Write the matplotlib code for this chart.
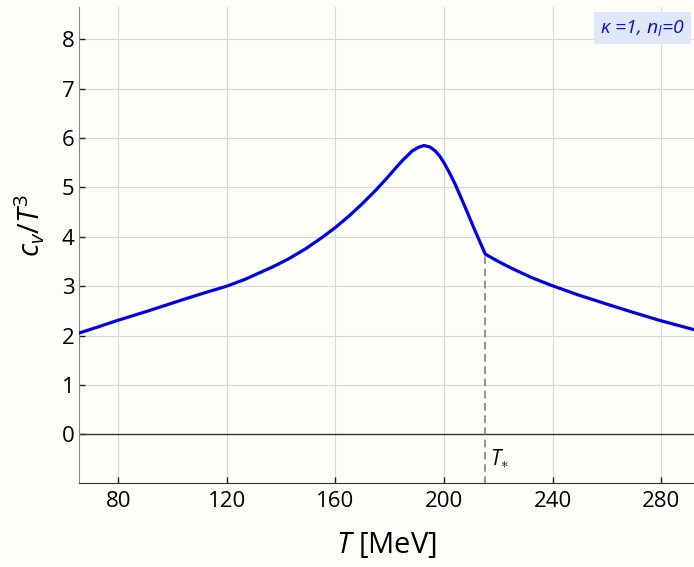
import matplotlib.pyplot as plt

# values
T = [65.6, 72.9, 80, 90, 102.3, 112.1, 120, 126.8, 131.6, 136.9, 143, 149.1,
     155.2, 159.8, 165, 169.9, 174.8, 178.5, 182, 184.6, 188.3, 190.5, 192.6, 194.8,
     196.8, 198.5, 200, 202, 204, 207.5, 211, 215.2,
     220, 225, 232, 239.4, 249, 259.2, 269, 279.2, 292]
cv = [2.05, 2.18, 2.31, 2.48, 2.70, 2.87, 3.00, 3.14, 3.26, 3.39, 3.56, 3.76,
      3.99, 4.18, 4.42, 4.67, 4.94, 5.16, 5.38, 5.54, 5.74, 5.81, 5.85, 5.82,
      5.74, 5.63, 5.50, 5.30, 5.08, 4.64, 4.18, 3.65,
      3.50, 3.36, 3.18, 3.02, 2.83, 2.65, 2.48, 2.31, 2.12]
T_star = 215.2
cv_star = 3.65

xticks = [80, 120, 160, 200, 240, 280]
yticks = [0, 1, 2, 3, 4, 5, 6, 7, 8]

plt.rcParams['font.family'] = ['Open Sans', 'DejaVu Sans']
plt.rcParams['mathtext.fontset'] = 'custom'
plt.rcParams['mathtext.it'] = 'Open Sans:italic'
plt.rcParams['mathtext.rm'] = 'Open Sans'

fig = plt.figure(figsize=(6.94, 5.67), dpi=100)
fig.patch.set_facecolor('#fdfdf9')
ax = fig.add_axes([0.114, 0.148, 0.886, 0.84])
ax.set_facecolor('#fdfdf9')

ax.plot(T, cv, color='#0000e6', lw=2.3, zorder=3, solid_joinstyle='round')
ax.axhline(0, color='#333333', lw=1.0, zorder=2)
ax.plot([T_star, T_star], [-1.0, cv_star], color='#777777', lw=1.1,
        ls=(0, (5, 3)), zorder=2)
ax.text(T_star + 1.8, -0.5, r'$T_{\ast}$', fontsize=15, va='center', ha='left')

ax.set_xlim(65.6, 292.1)
ax.set_ylim(-0.99, 8.66)
ax.set_xticks(xticks)
ax.set_yticks(yticks)
ax.grid(True, color='#d8d8d8', lw=0.8)
ax.tick_params(direction='in', length=4, width=1.0, labelsize=16, color='#222222')
ax.tick_params(axis='x', pad=6)

for s in ['top', 'right']:
    ax.spines[s].set_visible(False)
ax.spines['left'].set_color('#888888')
ax.spines['bottom'].set_color('#333333')

ax.set_xlabel(r'$T$ [MeV]', fontsize=21, labelpad=13)
ax.set_ylabel(r'$c_v/T^3$', fontsize=21)
ax.yaxis.set_label_coords(-0.052, 0.54)

ax.text(0.985, 0.955, r'$\kappa$ =1, $n_l$=0', transform=ax.transAxes,
        ha='right', va='center', fontsize=14, color='#1010d0', style='italic',
        bbox=dict(boxstyle='square,pad=0.3', fc='#dfe8f8', ec='none'))

fig.savefig('out.png', dpi=100, facecolor=fig.get_facecolor())
